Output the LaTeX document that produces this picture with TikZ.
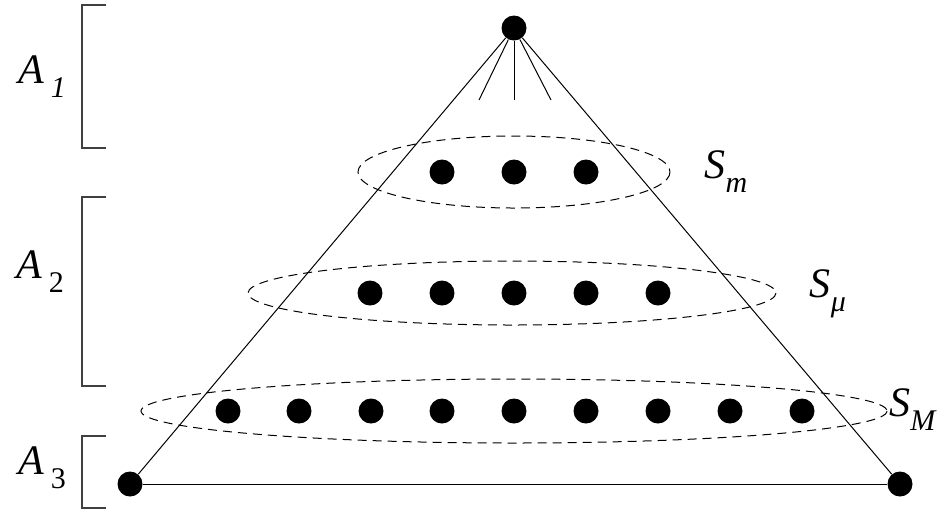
\documentclass[tikz,border=0pt]{standalone}
\usepackage{fontspec}
\setmainfont{Liberation Serif}
\newcommand{\sub}[2]{\textit{#1}\raisebox{-0.33em}{\fontsize{15}{17}\selectfont #2}}
\begin{document}
\begin{tikzpicture}[
  x=0.5pt,y=-0.5pt,
  dot/.style={circle, fill=black, inner sep=0pt, minimum size=12.5pt},
  ring/.style={draw, dashed, dash pattern=on 4.5pt off 3pt, line width=0.5pt},
  brace/.style={draw=black!75, line width=0.6pt},
  lab/.style={font=\fontsize{21}{23}\selectfont}]
\useasboundingbox (0,0) rectangle (939,511);
% apex and base corners
\node[dot] (top) at (514,28) {};
\node[dot] (bl) at (130,484) {};
\node[dot] (br) at (900,484) {};
\draw[line width=0.5pt] (bl) -- (top) -- (br);
\draw[line width=0.5pt] (bl) -- (br);
\foreach \x/\n in {479/f1,514/f2,551/f3} {
  \coordinate (\n) at (\x,100);
  \draw[line width=0.5pt] (top) -- (\n);
}
% level sets
\draw[ring] (514,172) ellipse [x radius=156, y radius=36];
\draw[ring] (512,293) ellipse [x radius=264, y radius=32];
\draw[ring] (514,411) ellipse [x radius=373, y radius=32];
\foreach \x [count=\i] in {442,514,586}
  \node[dot] (m\i) at (\x,172) {};
\foreach \x [count=\i] in {370,442,514,586,658}
  \node[dot] (u\i) at (\x,293) {};
\foreach \x [count=\i] in {228,299,371,442,514,586,658,730,802}
  \node[dot] (b\i) at (\x,411) {};
\node[lab] (sm) at (726,172) {\sub{S}{\textit{m}}};
\node[lab] (su) at (828,294) {\sub{S}{\textit{μ}}};
\node[lab] (sM) at (913,410) {\sub{S}{\textit{M}}};
% brackets on the left
\draw[brace] (106,5) -- (82,5) -- (82,148) -- (106,148);
\draw[brace] (106,197) -- (82,197) -- (82,386) -- (106,386);
\draw[brace] (106,436) -- (82,436) -- (82,508) -- (106,508);
\node[lab] (a1) at (42,77) {\sub{A\,}{\textit{1}}};
\node[lab] (a2) at (40,272) {\sub{A\,}{2}};
\node[lab] (a3) at (42,468) {\sub{A\,}{3}};
\end{tikzpicture}
\end{document}
